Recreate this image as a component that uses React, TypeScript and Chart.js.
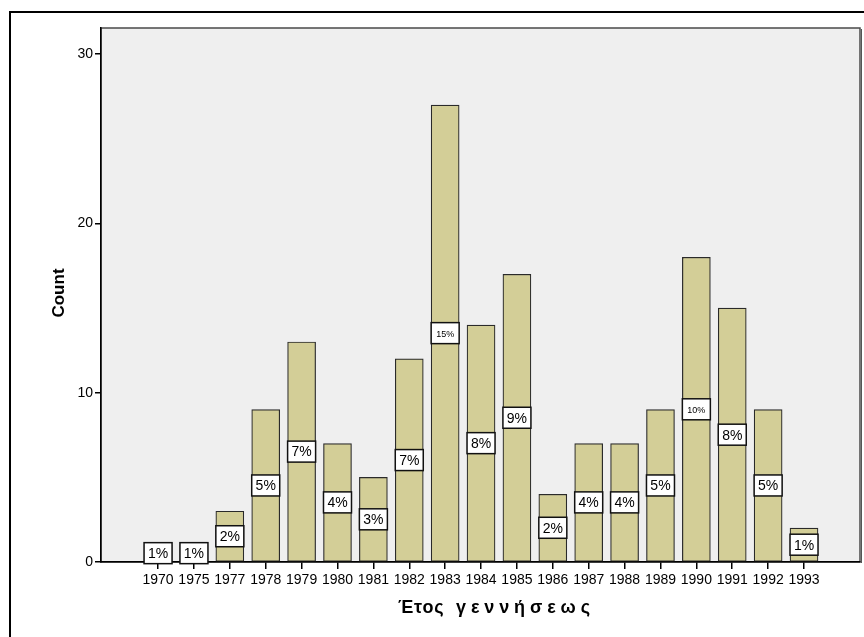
import React, { useEffect, useRef } from "react";
import { Chart, registerables } from "chart.js";

Chart.register(...registerables);

const years = ["1970", "1975", "1977", "1978", "1979", "1980", "1981", "1982", "1983", "1984", "1985", "1986", "1987", "1988", "1989", "1990", "1991", "1992", "1993"];
const counts = [1, 1, 3, 9, 13, 7, 5, 12, 27, 14, 17, 4, 7, 7, 9, 18, 15, 9, 2];
const percentLabels = ["1%", "1%", "2%", "5%", "7%", "4%", "3%", "7%", "15%", "8%", "9%", "2%", "4%", "4%", "5%", "10%", "8%", "5%", "1%"];
const yTickValues = [0, 10, 20, 30];
const xTitle = "Έτος γεννήσεως";
const yTitle = "Count";

const FONT = "Arial, 'Liberation Sans', sans-serif";

function drawSpaced(ctx: any, text: string, x0: number, x1: number, y: number) {
  const chars = Array.from(text);
  const base = ctx.measureText(text).width;
  const spacing = chars.length > 1 ? Math.max(0, (x1 - x0 - base) / (chars.length - 1)) : 0;
  let x = x0;
  chars.forEach((c) => {
    ctx.fillText(c, x, y);
    x += ctx.measureText(c).width + spacing;
  });
}

const decorPlugin = {
  id: "decor",
  beforeDraw(chart: any) {
    const { ctx, chartArea, width, height } = chart;
    ctx.save();
    ctx.fillStyle = "#ffffff";
    ctx.fillRect(0, 0, width, height);
    // outer frame
    ctx.strokeStyle = "#000000";
    ctx.lineWidth = 2;
    ctx.beginPath();
    ctx.moveTo(10, height + 5);
    ctx.lineTo(10, 12);
    ctx.lineTo(width + 5, 12);
    ctx.stroke();
    // plot background
    ctx.fillStyle = "#efefef";
    ctx.fillRect(chartArea.left, chartArea.top, chartArea.right - chartArea.left, chartArea.bottom - chartArea.top);
    ctx.strokeStyle = "#4a4a4a";
    ctx.lineWidth = 1.5;
    ctx.strokeRect(chartArea.left, chartArea.top, chartArea.right - chartArea.left, chartArea.bottom - chartArea.top);
    ctx.strokeStyle = "#555555";
    ctx.lineWidth = 1;
    ctx.beginPath();
    ctx.moveTo(chartArea.right + 1.5, chartArea.top + 1);
    ctx.lineTo(chartArea.right + 1.5, chartArea.bottom + 1);
    ctx.stroke();
    ctx.restore();
  },
  afterDatasetsDraw(chart: any) {
    const { ctx } = chart;
    const meta = chart.getDatasetMeta(0);
    ctx.save();
    meta.data.forEach((el: any, i: number) => {
      const label = percentLabels[i];
      const w = el.width;
      const h = 21;
      const cx = el.x;
      const cy = (el.y + el.base) / 2;
      ctx.fillStyle = "#ffffff";
      ctx.fillRect(cx - w / 2, cy - h / 2, w, h);
      ctx.strokeStyle = "#111111";
      ctx.lineWidth = 1.5;
      ctx.strokeRect(cx - w / 2, cy - h / 2, w, h);
      ctx.fillStyle = "#000000";
      ctx.textAlign = "center";
      ctx.textBaseline = "middle";
      ctx.font = (label.length > 2 ? "9px " : "14px ") + FONT;
      ctx.fillText(label, cx, cy + 1);
    });
    ctx.restore();
  },
  afterDraw(chart: any) {
    const { ctx } = chart;
    ctx.save();
    ctx.fillStyle = "#000000";
    ctx.textBaseline = "middle";
    ctx.textAlign = "left";
    // x title
    ctx.font = "bold 18px " + FONT;
    const words = xTitle.split(" ");
    drawSpaced(ctx, words[0], 398, 443, 608);
    drawSpaced(ctx, words[1], 456, 590, 608);
    // y title
    ctx.font = "bold 17px " + FONT;
    ctx.textAlign = "center";
    ctx.translate(59, 293);
    ctx.rotate(-Math.PI / 2);
    ctx.fillText(yTitle, 0, 0);
    ctx.restore();
  },
};

export default function App() {
  const ref = useRef<HTMLCanvasElement | null>(null);
  useEffect(() => {
    document.body.style.margin = "0";
    const canvas = ref.current;
    if (!canvas) return;
    const chart = new Chart(canvas, {
      type: "bar",
      data: {
        datasets: [
          {
            data: counts.map((c, i) => ({ x: i, y: c })),
            backgroundColor: "#d3ce97",
            borderColor: "#2a2a2a",
            borderWidth: 1.2,
            borderSkipped: false,
            barThickness: 28,
          },
        ],
      },
      options: {
        responsive: false,
        animation: false,
        events: [],
        layout: { padding: { top: 28, right: 4, left: 0, bottom: 0 } },
        plugins: {
          legend: { display: false },
          tooltip: { enabled: false },
          title: { display: false },
        },
        scales: {
          x: {
            type: "linear",
            min: -1.59,
            max: 19.56,
            offset: false,
            afterFit(scale: any) {
              scale.height = 75;
            },
            afterBuildTicks(scale: any) {
              scale.ticks = years.map((_, i) => ({ value: i }));
            },
            ticks: {
              autoSkip: false,
              maxRotation: 0,
              minRotation: 0,
              padding: 3,
              color: "#000000",
              font: { family: FONT, size: 14 },
              callback: (v: any) => years[Number(v)] ?? "",
            },
            grid: { offset: false, drawOnChartArea: false, drawTicks: true, tickLength: 7, color: "#000000", lineWidth: 1.5 },
            border: { display: true, color: "#000000", width: 1.5 },
          },
          y: {
            type: "linear",
            min: 0,
            max: 31.55,
            afterFit(scale: any) {
              scale.width = 101;
            },
            afterBuildTicks(scale: any) {
              scale.ticks = yTickValues.map((v) => ({ value: v }));
            },
            ticks: {
              padding: 2,
              color: "#000000",
              font: { family: FONT, size: 14 },
              callback: (v: any) => String(v),
            },
            grid: { drawOnChartArea: false, drawTicks: true, tickLength: 6, color: "#000000", lineWidth: 1.5 },
            border: { display: true, color: "#000000", width: 1.5 },
          },
        },
      },
      plugins: [decorPlugin],
    });
    return () => chart.destroy();
  }, []);
  return <canvas ref={ref} width={864} height={637} style={{ display: "block", width: 864, height: 637 }} />;
}
